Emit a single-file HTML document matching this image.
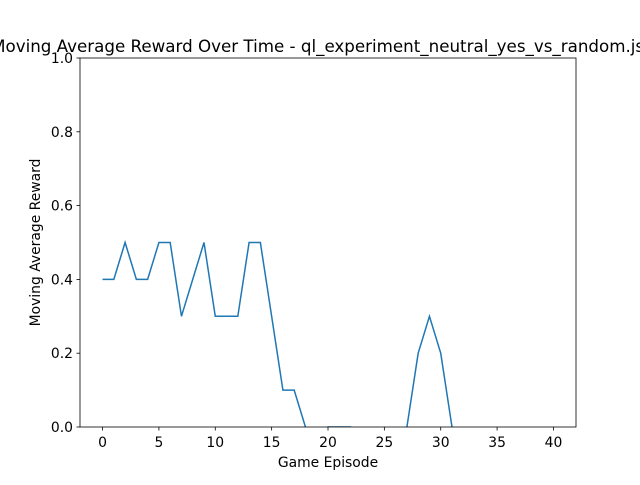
<!DOCTYPE html>
<html><head><meta charset="utf-8"><style>
body{margin:0;background:#fff}
text{font-family:"DejaVu Sans","Liberation Sans",sans-serif;fill:#000}
</style></head><body>
<svg id="chart" width="640" height="480" xmlns="http://www.w3.org/2000/svg">
<defs><clipPath id="clip"><rect x="80" y="58" width="496" height="369"/></clipPath></defs>
<rect x="0" y="0" width="640" height="480" fill="#fff"/>
<text x="328" y="52" font-size="16.7" text-anchor="middle">Moving Average Reward Over Time - ql_experiment_neutral_yes_vs_random.json</text>
<g id="xt"></g><g id="yt"></g>
<path id="line" fill="none" stroke="#1f77b4" stroke-width="1.5" clip-path="url(#clip)"/>
<rect x="80" y="58" width="496" height="369" fill="none" stroke="#000" stroke-width="0.8"/>
<text x="328" y="467" font-size="13.9" text-anchor="middle">Game Episode</text>
<text transform="translate(40,242.5) rotate(-90)" font-size="13.9" text-anchor="middle">Moving Average Reward</text>
</svg>
<script>
const episodes = Array.from({length:41},(_,i)=>i);
const rewards = [0.4,0.4,0.5,0.4,0.4,0.5,0.5,0.3,0.4,0.5,0.3,0.3,0.3,0.5,0.5,0.3,0.1,0.1,0.0,-0.1,0.0,0.0,0.0,-0.1,-0.1,-0.1,-0.1,0.0,0.2,0.3,0.2,0.0,-0.1,-0.1,-0.1,-0.1,-0.1,-0.1,-0.1,-0.1,-0.1];
const xTicks = [0,5,10,15,20,25,30,35,40];
const yTicks = [0.0,0.2,0.4,0.6,0.8,1.0];
const xs = v => 80 + (v + 2) / 44 * 496;
const ys = v => 427 - v * 369;
const NS = "http://www.w3.org/2000/svg";
document.getElementById('line').setAttribute('d', episodes.map((e,i)=>(i?'L':'M')+xs(e).toFixed(2)+','+ys(rewards[i]).toFixed(2)).join(''));
const xt = document.getElementById('xt'), yt = document.getElementById('yt');
xTicks.forEach(t=>{
  const l=document.createElementNS(NS,'line');
  l.setAttribute('x1',xs(t));l.setAttribute('x2',xs(t));l.setAttribute('y1',427);l.setAttribute('y2',430.5);l.setAttribute('stroke','#000');l.setAttribute('stroke-width','0.8');
  
  
  xt.appendChild(l);
  const s=document.createElementNS(NS,'text');
  s.setAttribute('x',xs(t));s.setAttribute('y',447);s.setAttribute('font-size','13.9');s.setAttribute('text-anchor','middle');s.textContent=t;
  
  
  xt.appendChild(s);
});
yTicks.forEach(t=>{
  const l=document.createElementNS(NS,'line');
  l.setAttribute('x1',76.5);l.setAttribute('x2',80);l.setAttribute('y1',ys(t));l.setAttribute('y2',ys(t));l.setAttribute('stroke','#000');l.setAttribute('stroke-width','0.8');
  
  
  yt.appendChild(l);
  const s=document.createElementNS(NS,'text');
  s.setAttribute('x',73);s.setAttribute('y',ys(t)+5);s.setAttribute('font-size','13.9');s.setAttribute('text-anchor','end');s.textContent=t.toFixed(1);
  
  
  yt.appendChild(s);
});
</script>
</body></html>
